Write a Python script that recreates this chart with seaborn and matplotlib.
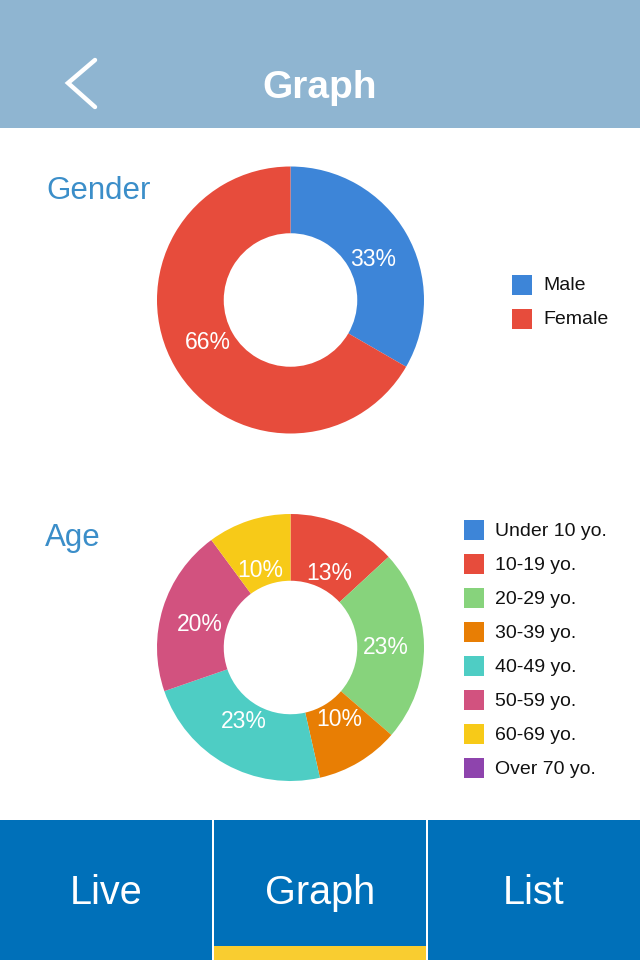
import numpy as np
import matplotlib
matplotlib.use("Agg")
import matplotlib.pyplot as plt
from matplotlib.patches import Rectangle
import seaborn as sns

# ---------------- data ----------------
gender_labels = ["Male", "Female"]
gender_values = [33, 66]
gender_colors = ["#3d85d8", "#e74c3c"]

age_labels = ["Under 10 yo.", "10-19 yo.", "20-29 yo.", "30-39 yo.",
              "40-49 yo.", "50-59 yo.", "60-69 yo.", "Over 70 yo."]
age_values = [0, 13, 23, 10, 23, 20, 10, 0]
age_colors = ["#3d85d8", "#e74c3c", "#87d37c", "#e87e04",
              "#4ecdc4", "#d2527f", "#f7ca18", "#8e44ad"]

header_title = "Graph"
tab_labels = ["Live", "Graph", "List"]
section_titles = ["Gender", "Age"]

# ---------------- style ----------------
sns.set_theme(style="white")
plt.rcParams["font.family"] = ["Liberation Sans", "DejaVu Sans"]

W, H = 640, 960
fig = plt.figure(figsize=(W / 100, H / 100), dpi=100)
fig.patch.set_facecolor("white")

bg = fig.add_axes([0, 0, 1, 1])
bg.set_xlim(0, W)
bg.set_ylim(H, 0)
bg.axis("off")

HEADER = "#8fb5d1"
TAB = "#0070b9"
ACCENT = "#f9cd30"
TITLE_BLUE = "#3b8ec9"

# header
bg.add_patch(Rectangle((0, 0), W, 128, color=HEADER, lw=0))
bg.text(320, 98, header_title, color="white", fontsize=28, fontweight="bold",
        ha="center", va="baseline")
bg.plot([95, 68, 95], [60, 83, 107], color="white", lw=3.2,
        solid_capstyle="round", solid_joinstyle="miter")

# tab bar
bg.add_patch(Rectangle((0, 820), W, 140, color=TAB, lw=0))
for xd in (213, 427):
    bg.add_patch(Rectangle((xd - 1, 820), 2.2, 140, color="white", lw=0))
bg.add_patch(Rectangle((214, 946), 212, 14, color=ACCENT, lw=0))
for i, lab in enumerate(tab_labels):
    cx = [106.5, 320, 533.5][i]
    bg.text(cx, 904, lab, color="white", fontsize=28.5, ha="center", va="baseline")

# section titles
bg.text(46, 199, section_titles[0], color=TITLE_BLUE, fontsize=22.5, ha="left", va="baseline")
bg.text(45, 546, section_titles[1], color=TITLE_BLUE, fontsize=22.5, ha="left", va="baseline")

# legends
for i, (lab, col) in enumerate(zip(gender_labels, gender_colors)):
    y0 = 275 + 34 * i
    bg.add_patch(Rectangle((512, y0), 20, 20, color=col, lw=0))
    bg.text(543, y0 + 15.5, lab, color="#111111", fontsize=14, va="baseline")

for i, (lab, col) in enumerate(zip(age_labels, age_colors)):
    y0 = 520 + 34 * i
    bg.add_patch(Rectangle((464, y0), 20, 20, color=col, lw=0))
    bg.text(495, y0 + 15.5, lab, color="#111111", fontsize=14, va="baseline")


def donut(cx, cy, r, values, colors):
    ax = fig.add_axes([(cx - r) / W, (H - cy - r) / H, 2 * r / W, 2 * r / H])
    wedges, _ = ax.pie(values, colors=colors, startangle=90, counterclock=False,
                       radius=1.0, wedgeprops=dict(width=0.5, linewidth=0))
    ax.set_xlim(-1, 1)
    ax.set_ylim(-1, 1)
    ax.set_aspect("equal")
    ax.axis("off")
    for w, v in zip(wedges, values):
        if v <= 0:
            continue
        ang = np.deg2rad((w.theta1 + w.theta2) / 2)
        ax.text(0.715 * np.cos(ang), 0.62 * np.sin(ang) - 0.01, f"{v}%",
                color="white", fontsize=16.5, ha="center", va="center")
    return ax


donut(290.5, 300, 133.5, gender_values, gender_colors)
donut(290.5, 647.5, 133.5, age_values, age_colors)

fig.savefig("out.png", dpi=100, facecolor="white")
